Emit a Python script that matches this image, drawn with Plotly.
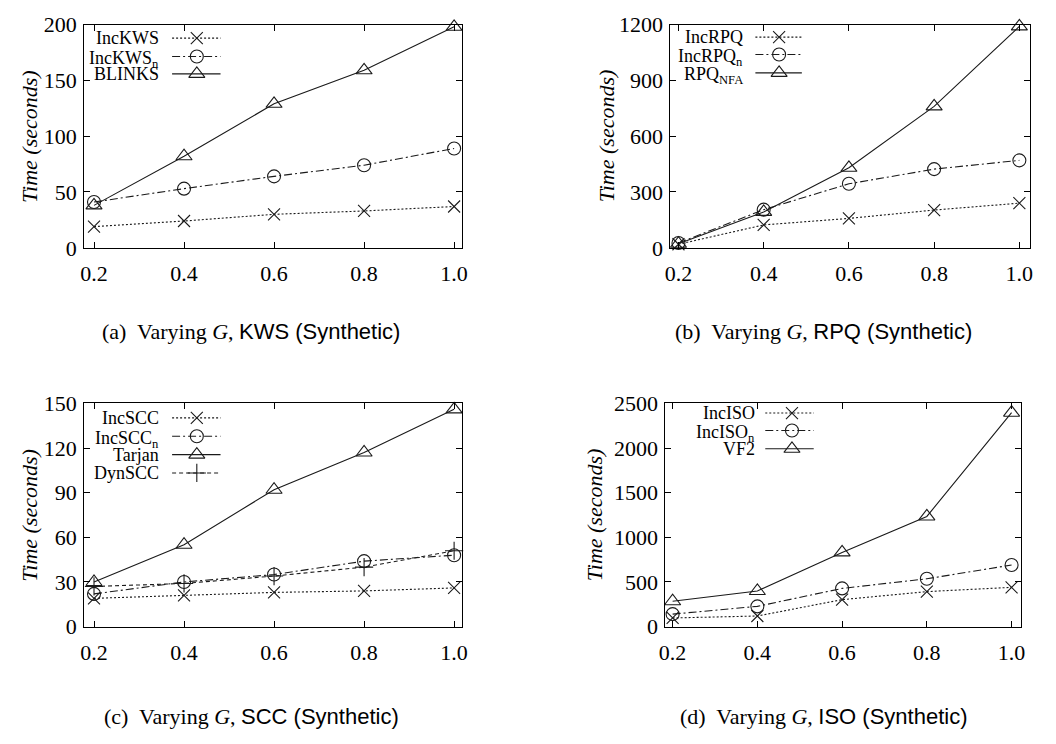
import plotly.graph_objects as go

W, H = 1056, 744

# ---------------- data ----------------
x_vals = [0.2, 0.4, 0.6, 0.8, 1.0]
x_ticktext = ["0.2", "0.4", "0.6", "0.8", "1.0"]

# (a) KWS
kws_inc = [19, 24, 30, 33, 37]
kws_inc_n = [41, 53, 64, 74, 89]
kws_blinks = [38, 82, 129, 159, 198]

# (b) RPQ
rpq_inc = [19, 123, 158, 203, 240]
rpq_inc_n = [26, 205, 344, 423, 470]
rpq_nfa = [22, 193, 430, 760, 1190]

# (c) SCC
scc_inc = [19, 21, 23, 24, 26]
scc_inc_n = [22, 30, 35, 44, 48]
scc_tarjan = [30, 55, 92, 117, 146]
scc_dyn = [27, 29, 34, 40, 51]

# (d) ISO
iso_inc = [97, 119, 302, 392, 440]
iso_inc_n = [140, 227, 428, 536, 690]
iso_vf2 = [284, 399, 831, 1234, 2396]

yticks_a = [0, 50, 100, 150, 200]
yticks_b = [0, 300, 600, 900, 1200]
yticks_c = [0, 30, 60, 90, 120, 150]
yticks_d = [0, 500, 1000, 1500, 2000, 2500]

names_a = ["IncKWS", "IncKWS<sub>n</sub>", "BLINKS"]
names_b = ["IncRPQ", "IncRPQ<sub>n</sub>", "RPQ<sub>NFA</sub>"]
names_c = ["IncSCC", "IncSCC<sub>n</sub>", "Tarjan", "DynSCC"]
names_d = ["IncISO", "IncISO<sub>n</sub>", "VF2"]

captions = [
    ("(a)", "KWS (Synthetic)"),
    ("(b)", "RPQ (Synthetic)"),
    ("(c)", "SCC (Synthetic)"),
    ("(d)", "ISO (Synthetic)"),
]

# ---------------- styles ----------------
SERIF = "Liberation Serif"
SANS = "Liberation Sans"
INK = "#1a1a1a"

STY = {
    "inc": dict(dash="2px,2px", symbol="x-thin-open", size=12),
    "incn": dict(dash="8px,3px,2px,3px", symbol="circle-open", size=13),
    "base": dict(dash="solid", symbol="triangle-up-open", size=14),
    "dyn": dict(dash="4px,3px", symbol="cross-thin-open", size=13),
}


def px2paper_x(p):
    return p / W


def px2paper_y(p):
    return 1 - p / H


# panel boxes in pixels: (left, right, top, bottom), x range
panels = [
    dict(box=(79, 461, 13, 244), xr=[0.178, 1.017], yr=[0, 200], yt=yticks_a,
         series=[(kws_inc, "inc"), (kws_inc_n, "incn"), (kws_blinks, "base")], names=names_a,
         leg=dict(tr=157, s0=168, s1=217, m=193, rows=[27, 46, 64]), ytitle=(23, 128.5),
         cap=(248, 331)),
    dict(box=(672, 1036, 13, 244), xr=[0.181, 1.0255], yr=[0, 1200], yt=yticks_b,
         series=[(rpq_inc, "inc"), (rpq_inc_n, "incn"), (rpq_nfa, "base")], names=names_b,
         leg=dict(tr=747, s0=758, s1=805, m=782, rows=[26, 44, 63]), ytitle=(607, 128.5),
         cap=(827, 331)),
    dict(box=(79, 461, 405, 636), xr=[0.178, 1.017], yr=[0, 150], yt=yticks_c,
         series=[(scc_inc, "inc"), (scc_inc_n, "incn"), (scc_tarjan, "base"), (scc_dyn, "dyn")],
         names=names_c,
         leg=dict(tr=157, s0=168, s1=217, m=193, rows=[420, 439, 458, 477]), ytitle=(23, 520.5),
         cap=(248, 729)),
    dict(box=(667, 1027, 405, 636), xr=[0.183, 1.023], yr=[0, 2500], yt=yticks_d,
         series=[(iso_inc, "inc"), (iso_inc_n, "incn"), (iso_vf2, "base")], names=names_d,
         leg=dict(tr=760, s0=768, s1=817, m=795, rows=[415, 433, 452]), ytitle=(595, 520.5),
         cap=(827, 729)),
]

fig = go.Figure()
layout = dict(
    width=W, height=H, margin=dict(l=0, r=0, t=0, b=0),
    paper_bgcolor="white", plot_bgcolor="rgba(0,0,0,0)",
    showlegend=False,
)
annotations = []

axis_common = dict(
    showline=True, linecolor="black", linewidth=1, mirror="ticks",
    ticks="inside", ticklen=6, tickcolor="black", tickwidth=1,
    showgrid=False, zeroline=False,
    tickfont=dict(family=SERIF, size=22, color="black"),
)

for i, p in enumerate(panels):
    k = i + 1
    xn = "xaxis" if k == 1 else f"xaxis{k}"
    yn = "yaxis" if k == 1 else f"yaxis{k}"
    xr = "x" if k == 1 else f"x{k}"
    yr = "y" if k == 1 else f"y{k}"
    l, r, t, b = p["box"]
    layout[xn] = dict(axis_common, domain=[px2paper_x(l), px2paper_x(r)], range=p["xr"],
                      tickvals=x_vals, ticktext=x_ticktext, anchor=yr, ticklabelstandoff=6)
    layout[yn] = dict(axis_common, domain=[px2paper_y(b), px2paper_y(t)], range=p["yr"],
                      tickvals=p["yt"], anchor=xr, ticklabelstandoff=2)
    for vals, key in p["series"]:
        s = STY[key]
        fig.add_trace(go.Scatter(
            x=x_vals, y=vals, xaxis=xr, yaxis=yr, mode="lines+markers",
            line=dict(color=INK, width=1.1, dash=s["dash"]),
            marker=dict(symbol=s["symbol"], size=s["size"], color=INK,
                        line=dict(color=INK, width=1.1)),
            cliponaxis=False, hoverinfo="skip",
        ))
    # y title
    tx, ty = p["ytitle"]
    annotations.append(dict(
        x=px2paper_x(tx), y=px2paper_y(ty), xref="paper", yref="paper",
        text="<i>Time (seconds)</i>", textangle=-90, showarrow=False,
        font=dict(family=SERIF, size=22, color="black"),
        xanchor="center", yanchor="middle",
    ))
    # caption
    cx, cy = p["cap"]
    lab, rest = captions[i]
    annotations.append(dict(
        x=px2paper_x(cx), y=px2paper_y(cy), xref="paper", yref="paper",
        text=f"{lab}&nbsp; Varying <i>G</i>, <span style='font-family:{SANS}'>{rest}</span>",
        showarrow=False, font=dict(family=SERIF, size=22, color="black"),
        xanchor="center", yanchor="middle",
    ))

# overlay pixel-space axes for the gnuplot-style legends
layout["xaxis5"] = dict(domain=[0, 1], range=[0, W], visible=False, anchor="y5", fixedrange=True)
layout["yaxis5"] = dict(domain=[0, 1], range=[H, 0], visible=False, anchor="x5", fixedrange=True)

for p in panels:
    lg = p["leg"]
    for (vals, key), name, row in zip(p["series"], p["names"], lg["rows"]):
        s = STY[key]
        fig.add_trace(go.Scatter(
            x=[lg["s0"], lg["s1"]], y=[row, row], xaxis="x5", yaxis="y5", mode="lines",
            line=dict(color=INK, width=1.1, dash=s["dash"]), hoverinfo="skip",
        ))
        fig.add_trace(go.Scatter(
            x=[lg["m"]], y=[row], xaxis="x5", yaxis="y5", mode="markers",
            marker=dict(symbol=s["symbol"], size=s["size"], color=INK,
                        line=dict(color=INK, width=1.1)), hoverinfo="skip",
        ))
        has_sub = "<sub>" in name
        annotations.append(dict(
            x=lg["tr"], y=row, xref="x5", yref="y5", text=name, showarrow=False,
            font=dict(family=SERIF, size=18, color="black"),
            xanchor="right", yanchor="middle", yshift=-3 if has_sub else 0,
        ))

layout["annotations"] = annotations
fig.update_layout(**layout)
fig.write_html("out.html", config={"displayModeBar": False},
               post_script="document.body.style.margin='0px';")
